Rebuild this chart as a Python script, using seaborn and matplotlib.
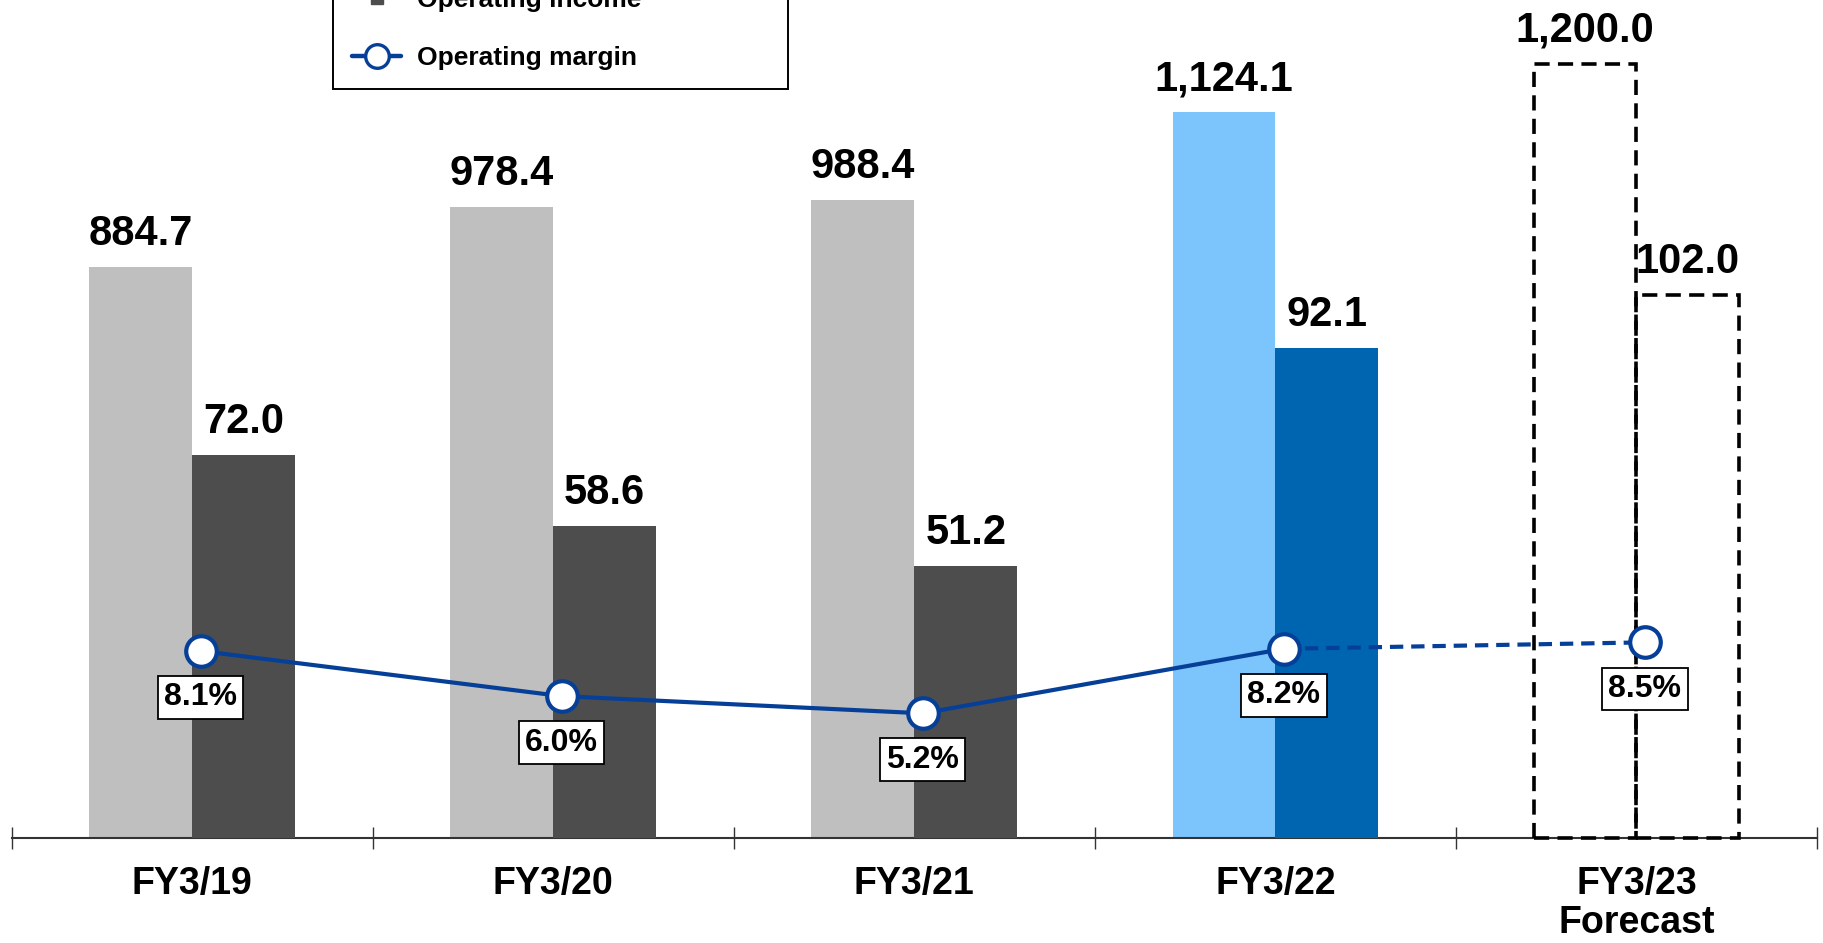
import numpy as np
import matplotlib
matplotlib.use("Agg")
import matplotlib.pyplot as plt
from matplotlib.lines import Line2D
import seaborn as sns

# ---------------- data ----------------
categories = ["FY3/19", "FY3/20", "FY3/21", "FY3/22", "FY3/23\nForecast"]
net_sales = [884.7, 978.4, 988.4, 1124.1, 1200.0]
operating_income = [72.0, 58.6, 51.2, 92.1, 102.0]
operating_margin = [8.1, 6.0, 5.2, 8.2, 8.5]
legend_labels = ["Net sales", "Operating income", "Operating margin"]

# ---------------- style ----------------
sns.set_style("white")
plt.rcParams["font.family"] = ["Liberation Sans", "DejaVu Sans"]
plt.rcParams["font.weight"] = "bold"
plt.rcParams["text.color"] = "black"
plt.rcParams["xtick.color"] = "black"
plt.rcParams["xtick.labelcolor"] = "black"

sales_colors = ["#bfbfbf", "#bfbfbf", "#bfbfbf", "#7cc4fc", "none"]
income_colors = ["#4d4d4d", "#4d4d4d", "#4d4d4d", "#0065b0", "none"]
forecast_flags = [False, False, False, False, True]
navy = "#063f98"

W, H = 1824, 943
fig = plt.figure(figsize=(W / 100, H / 100), dpi=100)
x_left, x_right, base_y = 11.7, 1817.0, 838.0
ax1 = fig.add_axes([x_left / W, (H - base_y) / H, (x_right - x_left) / W, base_y / H])
ax2 = ax1.twinx()
ax3 = ax1.twinx()

n = len(categories)
xc = np.arange(n)
bw = 0.285

sns.barplot(x=xc - bw / 2, y=net_sales, native_scale=True, width=bw, orient="x",
            saturation=1, color="#bfbfbf", linewidth=0, ax=ax1, errorbar=None)
sns.barplot(x=xc + bw / 2, y=operating_income, native_scale=True, width=bw, orient="x",
            saturation=1, color="#4d4d4d", linewidth=0, ax=ax2, errorbar=None)

for ax, cols in ((ax1, sales_colors), (ax2, income_colors)):
    for p, c, f in zip(ax.patches, cols, forecast_flags):
        if f:
            p.set_facecolor("none")
            p.set_edgecolor("black")
            p.set_linewidth(2.6)
            p.set_linestyle((0, (4.2, 2.3)))
            p.set_clip_on(False)
            p.set_zorder(3)
        else:
            p.set_facecolor(c)
            p.set_edgecolor(c)
            p.set_linewidth(0)

ax1.set_ylim(0, 1298.4)
ax2.set_ylim(0, 157.5)
ax3.set_ylim(-0.6, 38.38)

# value labels
for ax, vals, offs in ((ax1, net_sales, -bw / 2), (ax2, operating_income, bw / 2)):
    for i, v in enumerate(vals):
        ax.annotate(f"{v:,.1f}", xy=(i + offs, v), xytext=(0, 15.8), textcoords="offset points",
                    ha="center", va="baseline", fontsize=30, fontweight="bold", color="black",
                    annotation_clip=False)

# operating margin line
mx = xc + 0.023
sns.lineplot(x=mx[3:], y=operating_margin[3:], ax=ax3, color=navy, linewidth=3.0,
             linestyle=(0, (3.2, 1.9)), errorbar=None, zorder=4, legend=False)
sns.lineplot(x=mx[:4], y=operating_margin[:4], ax=ax3, color=navy, linewidth=3.0,
             errorbar=None, zorder=5, legend=False)
sns.scatterplot(x=mx, y=operating_margin, ax=ax3, s=22 ** 2, color="white",
                edgecolor=navy, linewidth=3.0, zorder=6, legend=False)

for i, m in enumerate(operating_margin):
    ax3.annotate(f"{m:.1f}%", xy=(mx[i], m), xytext=(0, -33.5), textcoords="offset points",
                 ha="center", va="center", fontsize=23, fontweight="bold", color="black",
                 zorder=7,
                 bbox=dict(boxstyle="square,pad=0.2", fc="white", ec="black", lw=1.3))

# axes cosmetics
for ax in (ax1, ax2, ax3):
    for s in ax.spines.values():
        s.set_visible(False)
    ax.set_yticks([])
    ax.set_ylabel("")
    ax.patch.set_visible(False)

ax1.set_xlim(-0.5, n - 0.5)
ax1.spines["bottom"].set_visible(True)
ax1.spines["bottom"].set_color("#333333")
ax1.spines["bottom"].set_linewidth(1.5)
ax1.set_xticks(xc)
ax1.set_xticklabels(categories, fontsize=27, fontweight="bold", linespacing=1.1, color="black")
ax1.set_xticks(np.arange(n + 1) - 0.5, minor=True)
ax1.tick_params(axis="x", which="major", bottom=True, length=0, pad=20, labelbottom=True)
ax1.tick_params(axis="x", which="minor", bottom=True, length=16, width=1.0,
                direction="inout", color="#333333")

# legend (partly above the figure edge as in the reference)
handles = [
    Line2D([], [], marker="s", ls="none", color="#bfbfbf", markersize=9),
    Line2D([], [], marker="s", ls="none", color="#4d4d4d", markersize=9),
    Line2D([], [], color=navy, lw=3.2, marker="o", markersize=17, mfc="white", mec=navy, mew=2.4),
]
leg = fig.legend(handles, legend_labels, loc="lower left",
                 bbox_to_anchor=(333 / W, 1 - 89 / H, 455 / W, 0.2), mode="expand",
                 prop=dict(family="Liberation Sans", weight="bold", size=19),
                 frameon=True, fancybox=False, framealpha=1, edgecolor="black",
                 borderaxespad=0, borderpad=0.72, labelspacing=1.27,
                 handlelength=1.86, handletextpad=0.6)
leg.get_frame().set_linewidth(1.4)
for t in leg.get_texts():
    t.set_color("black")

fig.savefig("out.png", dpi=100)
